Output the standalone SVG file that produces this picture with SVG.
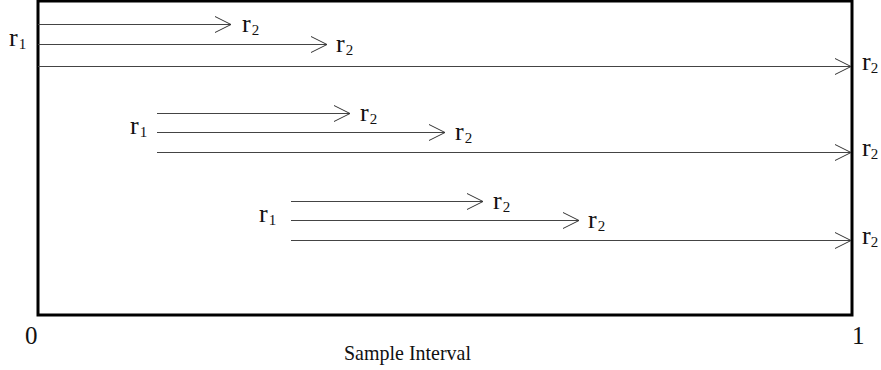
<svg xmlns="http://www.w3.org/2000/svg" width="881" height="370" viewBox="0 0 881 370">
<defs>
<marker id="chev" markerWidth="18" markerHeight="20" refX="16" refY="9" orient="auto" markerUnits="userSpaceOnUse">
<path d="M0,1 L16,9 L0,17" fill="none" stroke="#333" stroke-width="1"/>
</marker>
<style>
text{font-family:"Liberation Serif","Times New Roman",serif;font-size:25px;fill:#111}
.r{font-size:26px}
.sub{font-size:15px}
.arr{stroke:#444;stroke-width:1;fill:none;marker-end:url(#chev)}
.box{fill:none;stroke:#000;stroke-width:3}
</style>
</defs>
<g id="box"><rect class="box" x="38" y="1" width="814" height="314"/></g>
<g id="connectors">
<line class="arr" x1="38" y1="24.5" x2="231" y2="24.5"/>
<line class="arr" x1="38" y1="44.5" x2="327" y2="44.5"/>
<line class="arr" x1="38" y1="66.5" x2="851" y2="66.5"/>
<line class="arr" x1="157" y1="113.5" x2="350" y2="113.5"/>
<line class="arr" x1="157" y1="132.5" x2="445" y2="132.5"/>
<line class="arr" x1="157" y1="152.5" x2="851" y2="152.5"/>
<line class="arr" x1="291" y1="201.5" x2="483" y2="201.5"/>
<line class="arr" x1="291" y1="220.5" x2="579" y2="220.5"/>
<line class="arr" x1="291" y1="240.5" x2="851" y2="240.5"/>
</g>
<g id="labels">
<text class="r" x="9" y="46">r<tspan class="sub" dx="1" dy="3">1</tspan></text>
<text class="r" x="242" y="32">r<tspan class="sub" dx="1" dy="3">2</tspan></text>
<text class="r" x="336" y="52">r<tspan class="sub" dx="1" dy="3">2</tspan></text>
<text class="r" x="862" y="70">r<tspan class="sub" dy="3">2</tspan></text>
<text class="r" x="130" y="134">r<tspan class="sub" dx="1" dy="3">1</tspan></text>
<text class="r" x="360" y="121">r<tspan class="sub" dx="1" dy="3">2</tspan></text>
<text class="r" x="455" y="140">r<tspan class="sub" dx="1" dy="3">2</tspan></text>
<text class="r" x="862" y="156">r<tspan class="sub" dy="3">2</tspan></text>
<text class="r" x="259" y="222">r<tspan class="sub" dx="1" dy="3">1</tspan></text>
<text class="r" x="493" y="209">r<tspan class="sub" dx="1" dy="3">2</tspan></text>
<text class="r" x="588" y="228">r<tspan class="sub" dx="1" dy="3">2</tspan></text>
<text class="r" x="862" y="244">r<tspan class="sub" dy="3">2</tspan></text>
<text x="25" y="344">0</text>
<text x="852" y="344">1</text>
<text x="344" y="360" style="font-size:21px" textLength="127" lengthAdjust="spacingAndGlyphs">Sample Interval</text>
</g>
</svg>
